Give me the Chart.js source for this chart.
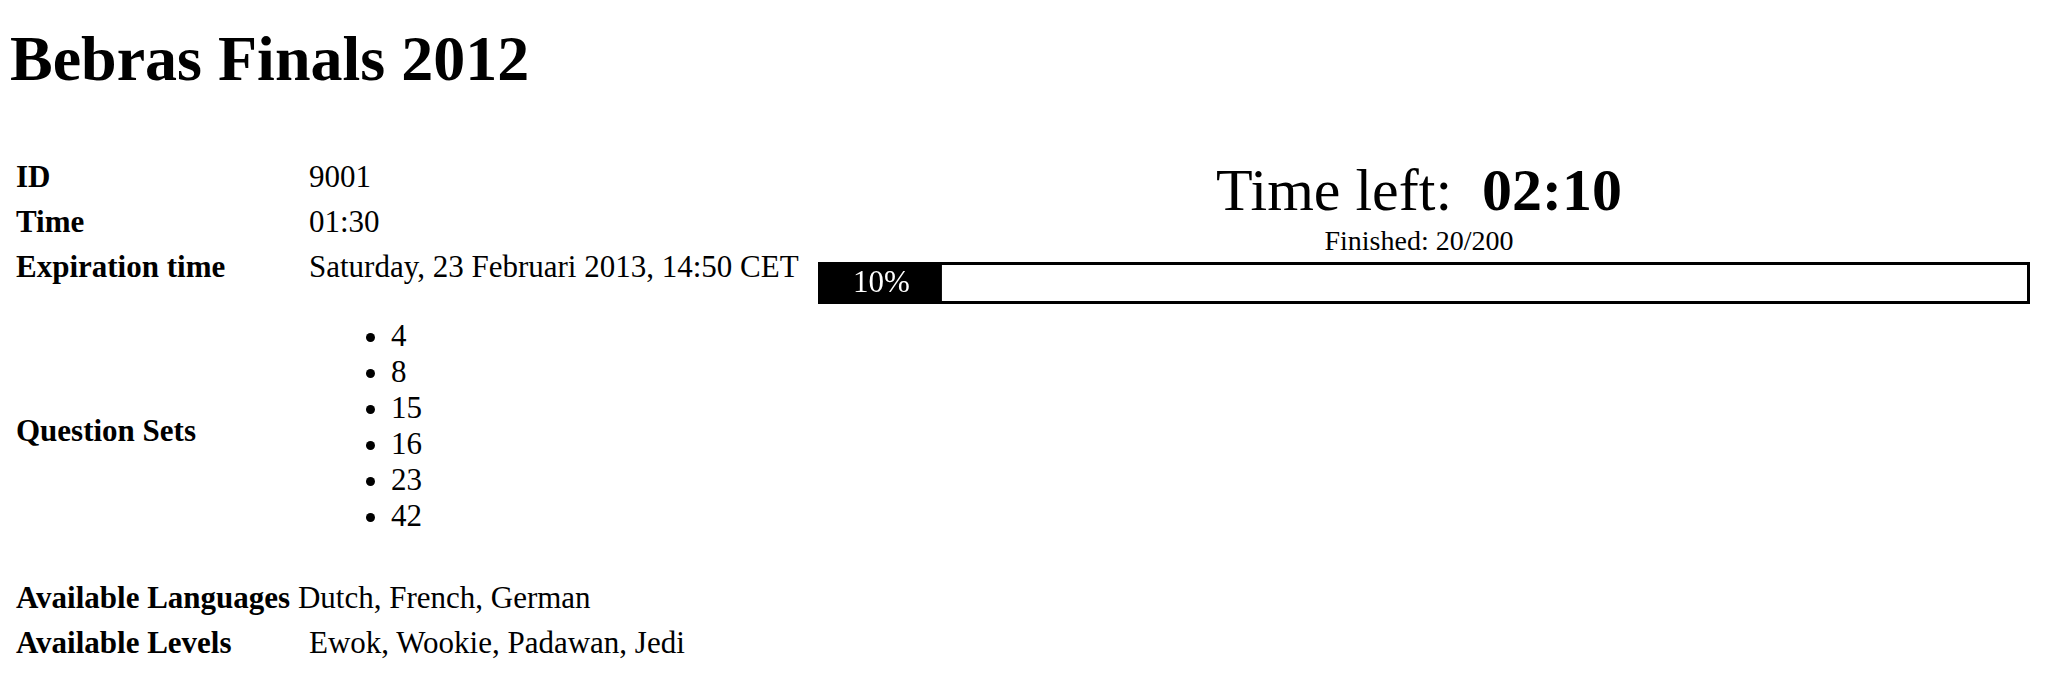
<!DOCTYPE html>
<html>
<head>
<meta charset="utf-8">
<script src="https://cdn.jsdelivr.net/npm/chart.js@4"></script>
<style>
  body { margin: 0; background: #fff; font-family: "Liberation Serif", "Times New Roman", serif; color: #000; }
  h1 { position: absolute; left: 10px; top: 22px; margin: 0; font-size: 64px; font-weight: bold; }
  .row { position: absolute; left: 16px; font-size: 31px; line-height: 40px; }
  .row b { display: inline-block; width: 293px; }
  ul { position: absolute; left: 362px; top: 318px; margin: 0; padding: 0 0 0 29px; font-size: 31px; line-height: 36px; }
  #timeleft { position: absolute; left: 818px; width: 1202px; top: 155px; text-align: center; font-size: 60px; line-height: 70px; }
  #finished { position: absolute; left: 818px; width: 1202px; top: 224px; text-align: center; font-size: 28px; line-height: 34px; }
  #bar { position: absolute; left: 818px; top: 262px; width: 1212px; height: 42px; border: 3px solid #000; box-sizing: border-box; }
</style>
</head>
<body>
<h1>Bebras Finals 2012</h1>
<div class="row" style="top:157px"><b>ID</b>9001</div>
<div class="row" style="top:202px"><b>Time</b>01:30</div>
<div class="row" style="top:247px"><b>Expiration time</b>Saturday, 23 Februari 2013, 14:50 CET</div>
<div class="row" style="top:411px"><b>Question Sets</b></div>
<ul id="sets"></ul>
<div class="row" style="top:578px"><b style="width:auto">Available Languages</b> Dutch, French, German</div>
<div class="row" style="top:623px"><b>Available Levels</b>Ewok, Wookie, Padawan, Jedi</div>
<div id="timeleft">Time left:&nbsp; <b>02:10</b></div>
<div id="finished"></div>
<div id="bar"><canvas id="chart"></canvas></div>
<script>
const questionSets = [4, 8, 15, 16, 23, 42];
const finished = 20;
const total = 200;
const progressLabels = ["progress"];
const progressValues = [finished / total * 100];

document.getElementById("sets").innerHTML = questionSets.map(q => "<li>" + q + "</li>").join("");
document.getElementById("finished").textContent = "Finished: " + finished + "/" + total;

// draws the percentage text in the middle of the filled bar
const pctLabel = {
  id: "pctLabel",
  afterDatasetsDraw(chart) {
    const ctx = chart.ctx;
    const bar = chart.getDatasetMeta(0).data[0];
    const xs = chart.scales.x;
    ctx.save();
    ctx.fillStyle = "#fff";
    ctx.font = "31px 'Liberation Serif'";
    ctx.textAlign = "center";
    ctx.textBaseline = "middle";
    ctx.fillText(Math.round(progressValues[0]) + "%", (xs.getPixelForValue(0) + bar.x) / 2, bar.y + 1);
    ctx.restore();
  }
};

new Chart(document.getElementById("chart"), {
  type: "bar",
  data: {
    labels: progressLabels,
    datasets: [{ data: progressValues, backgroundColor: "#000", borderWidth: 0, barPercentage: 1, categoryPercentage: 1 }]
  },
  options: {
    indexAxis: "y",
    responsive: true,
    maintainAspectRatio: false,
    animation: false,
    layout: { padding: 0 },
    plugins: { legend: { display: false }, tooltip: { enabled: false } },
    scales: {
      x: { display: false, min: 0, max: 100 },
      y: { display: false }
    }
  },
  plugins: [pctLabel]
});
</script>
</body>
</html>
